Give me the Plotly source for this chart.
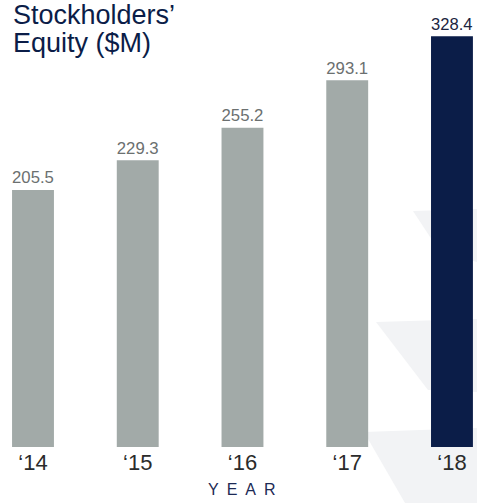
import plotly.graph_objects as go

years = ["‘14", "‘15", "‘16", "‘17", "‘18"]
equity = [205.5, 229.3, 255.2, 293.1, 328.4]
bar_colors = ["#a2aaa8", "#a2aaa8", "#a2aaa8", "#a2aaa8", "#0b1d48"]
label_colors = ["#6b7070", "#6b7070", "#6b7070", "#6b7070", "#1c2540"]

FONT = "Liberation Sans, Arial, sans-serif"
W, H, B = 477, 503, 56
PH = H - B


def px_x(x):
    return x / W


def px_y(y):
    return 1 - y / PH


fig = go.Figure()
fig.add_trace(go.Bar(
    x=list(range(len(years))),
    y=equity,
    marker=dict(color=bar_colors, line=dict(width=0)),
    width=0.4,
    text=[f"{v:.1f}" for v in equity],
    textposition="outside",
    textfont=dict(family=FONT, size=19, color=label_colors),
    cliponaxis=False,
    hoverinfo="skip",
))

fig.update_layout(
    width=W, height=H,
    margin=dict(l=0, r=0, t=0, b=B),
    plot_bgcolor="rgba(0,0,0,0)", paper_bgcolor="white",
    showlegend=False,
    xaxis=dict(
        range=[-0.315, 4.239],
        tickmode="array",
        tickvals=list(range(len(years))),
        ticktext=years,
        tickfont=dict(family=FONT, size=22, color="#2b2b2b"),
        showgrid=False, zeroline=False, showline=False, ticks="",
    ),
    yaxis=dict(range=[0, 357.3], visible=False, showgrid=False),
)

# faint background wedges (decoration)
wedges = [
    [(413, 211), (477, 209), (477, 262), (440, 252)],
    [(376, 322), (477, 319), (477, 392), (428, 390)],
    [(364, 432), (477, 428), (477, 503), (405, 503)],
]
for poly in wedges:
    path = "M " + " L ".join(f"{px_x(x):.4f},{px_y(y):.4f}" for x, y in poly) + " Z"
    fig.add_shape(type="path", path=path, xref="paper", yref="paper",
                  fillcolor="#f2f3f5", line=dict(width=0), layer="below")

fig.add_annotation(text="Stockholders’", xref="paper", yref="paper",
                   x=px_x(11), y=px_y(25), xanchor="left", yanchor="bottom",
                   yshift=-7, showarrow=False,
                   font=dict(family=FONT, size=27, color="#0b1d48"))
fig.add_annotation(text="Equity ($M)", xref="paper", yref="paper",
                   x=px_x(11), y=px_y(53), xanchor="left", yanchor="bottom",
                   yshift=-7, showarrow=False,
                   font=dict(family=FONT, size=27, color="#0b1d48"))
fig.add_annotation(text="Y\u2002E\u2002A\u2002R", xref="paper", yref="paper",
                   x=px_x(242), y=px_y(496), xanchor="center", yanchor="bottom",
                   yshift=-4, showarrow=False,
                   font=dict(family=FONT, size=16, color="#1c2a55"))

fig.write_html("out.html", config={"displayModeBar": False, "staticPlot": True},
               post_script="document.body.style.margin='0';")
